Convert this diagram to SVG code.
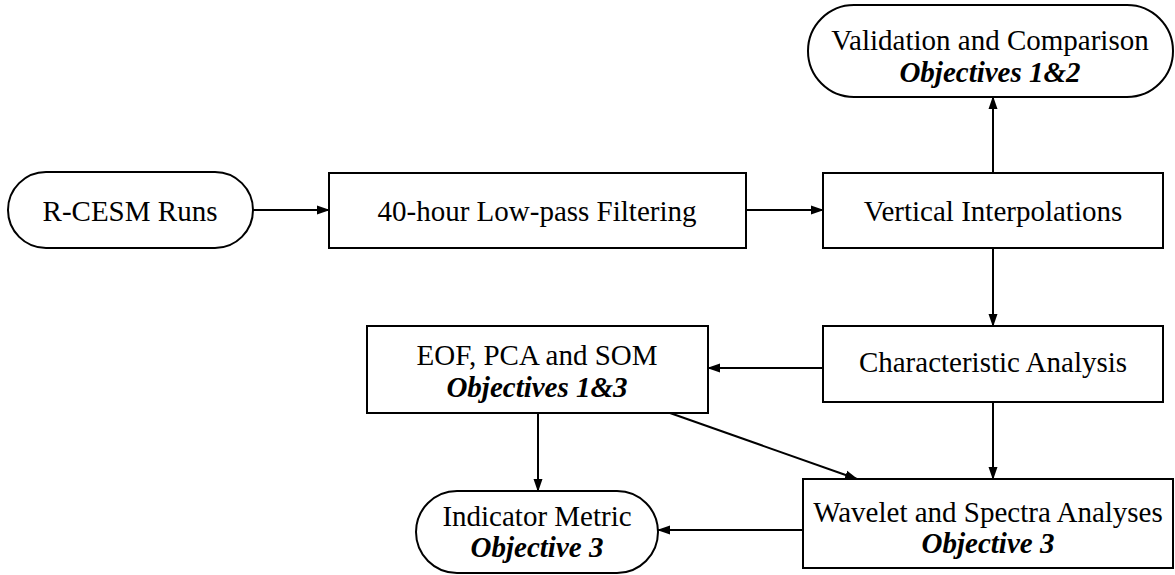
<svg xmlns="http://www.w3.org/2000/svg" width="1175" height="575" viewBox="0 0 1175 575">
  <style>
    .box { fill: #ffffff; stroke: #000000; stroke-width: 2; }
    .lbl { font-family: "Liberation Serif", "Times New Roman", serif; font-size: 29px; fill: #000000; text-anchor: middle; }
    .obj { font-weight: bold; font-style: italic; }
    .edge { fill: none; stroke: #000000; stroke-width: 2; marker-end: url(#arrow); }
  </style>
  <defs>
    <marker id="arrow" markerUnits="userSpaceOnUse" markerWidth="13" markerHeight="10" refX="12" refY="5" orient="auto">
      <path d="M0,0.5 L13,5 L0,9.5 z" fill="#000000"/>
    </marker>
  </defs>
  <rect width="1175" height="575" fill="#ffffff"/>

  <g id="connectors">
    <line class="edge" x1="253" y1="210" x2="329" y2="210"/>
    <line class="edge" x1="746" y1="210" x2="823" y2="210"/>
    <line class="edge" x1="993" y1="173" x2="993" y2="97"/>
    <line class="edge" x1="993" y1="248" x2="993" y2="326"/>
    <line class="edge" x1="823" y1="368" x2="708" y2="368"/>
    <line class="edge" x1="538" y1="413" x2="538" y2="491"/>
    <line class="edge" x1="670" y1="413" x2="857" y2="479"/>
    <line class="edge" x1="993" y1="402" x2="993" y2="479"/>
    <line class="edge" x1="803" y1="530" x2="658" y2="530"/>
  </g>

  <g id="rcesm-runs">
    <rect class="box" x="8" y="172" width="245" height="76" rx="38" ry="38"/>
    <text class="lbl" x="130" y="221">R-CESM Runs</text>
  </g>

  <g id="low-pass-filtering">
    <rect class="box" x="329" y="173" width="417" height="75"/>
    <text class="lbl" x="537" y="221">40-hour Low-pass Filtering</text>
  </g>

  <g id="vertical-interpolations">
    <rect class="box" x="823" y="173" width="340" height="75"/>
    <text class="lbl" x="993" y="221">Vertical Interpolations</text>
  </g>

  <g id="validation-comparison">
    <rect class="box" x="808" y="5" width="365" height="92" rx="46" ry="46"/>
    <text class="lbl" x="990" y="50">Validation and Comparison</text>
    <text class="lbl obj" x="990" y="82">Objectives 1&amp;2</text>
  </g>

  <g id="characteristic-analysis">
    <rect class="box" x="823" y="326" width="340" height="76"/>
    <text class="lbl" x="993" y="372">Characteristic Analysis</text>
  </g>

  <g id="eof-pca-som">
    <rect class="box" x="367" y="326" width="341" height="87"/>
    <text class="lbl" x="537" y="365">EOF, PCA and SOM</text>
    <text class="lbl obj" x="537" y="397">Objectives 1&amp;3</text>
  </g>

  <g id="indicator-metric">
    <rect class="box" x="416" y="491" width="242" height="82" rx="41" ry="41"/>
    <text class="lbl" x="537" y="526">Indicator Metric</text>
    <text class="lbl obj" x="537" y="557">Objective 3</text>
  </g>

  <g id="wavelet-spectra">
    <rect class="box" x="803" y="479" width="370" height="89"/>
    <text class="lbl" x="988" y="522">Wavelet and Spectra Analyses</text>
    <text class="lbl obj" x="988" y="553">Objective 3</text>
  </g>
</svg>
